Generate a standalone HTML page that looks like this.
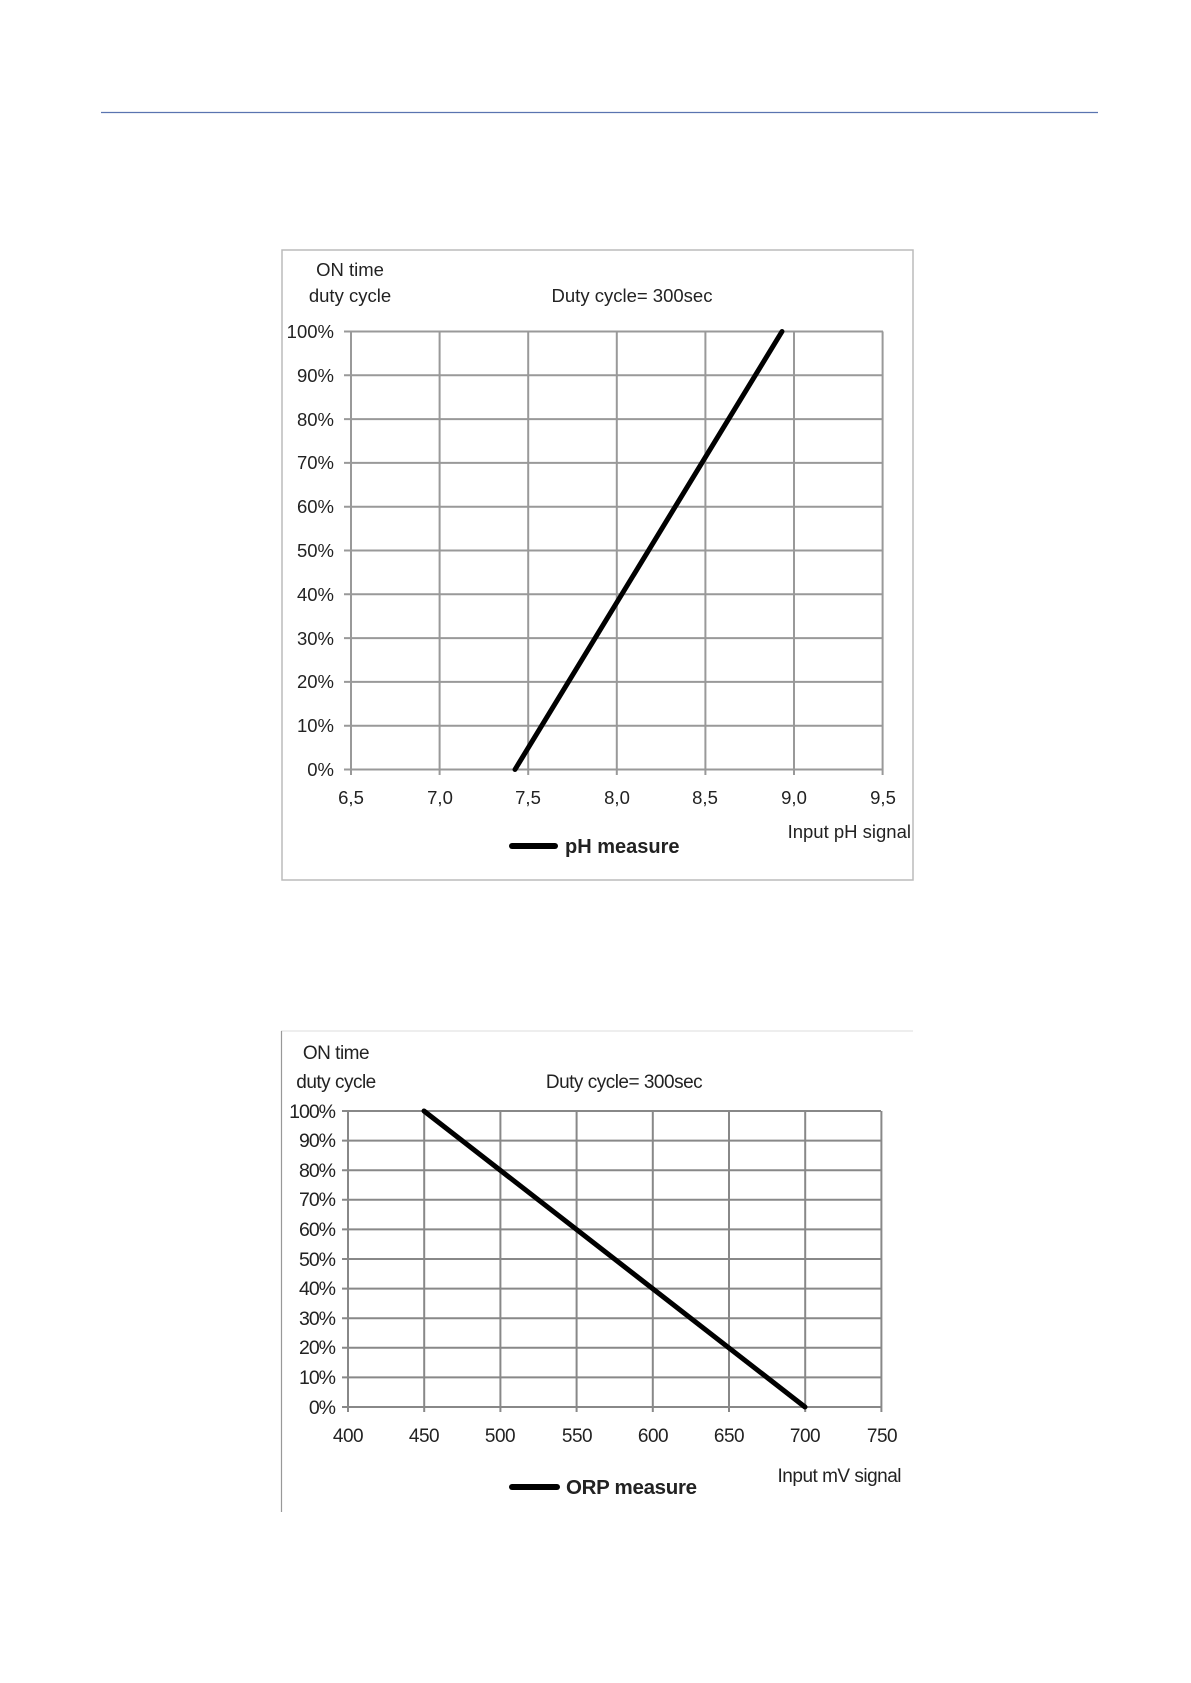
<!DOCTYPE html>
<html><head><meta charset="utf-8"><style>
html,body{margin:0;padding:0;background:#fff;}
svg{display:block;}
text{font-family:"Liberation Sans",sans-serif;fill:#222;}
</style></head><body>
<svg width="1191" height="1683" viewBox="0 0 1191 1683">
<line x1="101" y1="112.5" x2="1098" y2="112.5" stroke="#5a74b0" stroke-width="1.2"/>
<!-- Chart 1 -->
<rect x="282" y="250" width="631" height="630" fill="#fff" stroke="#bbb" stroke-width="1.5"/>
<g stroke="#999" stroke-width="2">
<line x1="439.6" y1="331.5" x2="439.6" y2="770"/><line x1="528.2" y1="331.5" x2="528.2" y2="770"/>
<line x1="616.8" y1="331.5" x2="616.8" y2="770"/><line x1="705.4" y1="331.5" x2="705.4" y2="770"/>
<line x1="794" y1="331.5" x2="794" y2="770"/><line x1="882.6" y1="331.5" x2="882.6" y2="775"/>
<line x1="344" y1="331.5" x2="883" y2="331.5"/><line x1="344" y1="375.3" x2="883" y2="375.3"/>
<line x1="344" y1="419.1" x2="883" y2="419.1"/><line x1="344" y1="462.9" x2="883" y2="462.9"/>
<line x1="344" y1="506.7" x2="883" y2="506.7"/><line x1="344" y1="550.5" x2="883" y2="550.5"/>
<line x1="344" y1="594.3" x2="883" y2="594.3"/><line x1="344" y1="638.1" x2="883" y2="638.1"/>
<line x1="344" y1="681.9" x2="883" y2="681.9"/><line x1="344" y1="725.7" x2="883" y2="725.7"/>
<line x1="344" y1="769.5" x2="883" y2="769.5"/>
<line x1="351" y1="331.5" x2="351" y2="775"/>
<line x1="439.6" y1="769" x2="439.6" y2="775"/><line x1="528.2" y1="769" x2="528.2" y2="775"/><line x1="616.8" y1="769" x2="616.8" y2="775"/><line x1="705.4" y1="769" x2="705.4" y2="775"/><line x1="794" y1="769" x2="794" y2="775"/>
</g>
<line x1="515" y1="769.5" x2="782" y2="331.5" stroke="#000" stroke-width="5" stroke-linecap="round"/>
<g font-size="18.5" text-anchor="end">
<text x="334" y="338">100%</text><text x="334" y="382">90%</text><text x="334" y="426">80%</text><text x="334" y="469">70%</text><text x="334" y="513">60%</text><text x="334" y="557">50%</text><text x="334" y="601">40%</text><text x="334" y="645">30%</text><text x="334" y="688">20%</text><text x="334" y="732">10%</text><text x="334" y="776">0%</text>
</g>
<g font-size="18.5" text-anchor="middle">
<text x="351" y="804">6,5</text><text x="440" y="804">7,0</text><text x="528" y="804">7,5</text><text x="617" y="804">8,0</text><text x="705" y="804">8,5</text><text x="794" y="804">9,0</text><text x="883" y="804">9,5</text>
<text x="350" y="276">ON time</text><text x="350" y="302">duty cycle</text>
<text x="632" y="302">Duty cycle= 300sec</text>
</g>
<text x="911" y="838" font-size="18.5" text-anchor="end">Input pH signal</text>
<line x1="512" y1="846" x2="555" y2="846" stroke="#000" stroke-width="6" stroke-linecap="round"/>
<text x="565" y="853" font-size="20" font-weight="bold" fill="#111">pH measure</text>
<!-- Chart 2 -->
<line x1="281" y1="1031" x2="913" y2="1031" stroke="#ddd" stroke-width="1"/>
<line x1="281.5" y1="1031" x2="281.5" y2="1512" stroke="#999" stroke-width="1.2"/>
<g stroke="#888" stroke-width="2">
<line x1="424.2" y1="1111" x2="424.2" y2="1412"/><line x1="500.4" y1="1111" x2="500.4" y2="1412"/>
<line x1="576.6" y1="1111" x2="576.6" y2="1412"/><line x1="652.8" y1="1111" x2="652.8" y2="1412"/>
<line x1="729" y1="1111" x2="729" y2="1412"/><line x1="805.2" y1="1111" x2="805.2" y2="1412"/>
<line x1="881.4" y1="1111" x2="881.4" y2="1412"/>
<line x1="342" y1="1111" x2="881" y2="1111"/><line x1="342" y1="1140.6" x2="881" y2="1140.6"/>
<line x1="342" y1="1170.2" x2="881" y2="1170.2"/><line x1="342" y1="1199.8" x2="881" y2="1199.8"/>
<line x1="342" y1="1229.4" x2="881" y2="1229.4"/><line x1="342" y1="1259" x2="881" y2="1259"/>
<line x1="342" y1="1288.6" x2="881" y2="1288.6"/><line x1="342" y1="1318.2" x2="881" y2="1318.2"/>
<line x1="342" y1="1347.8" x2="881" y2="1347.8"/><line x1="342" y1="1377.4" x2="881" y2="1377.4"/>
<line x1="342" y1="1407" x2="881" y2="1407"/>
<line x1="348" y1="1111" x2="348" y2="1412"/>
</g>
<line x1="424" y1="1111" x2="805" y2="1407" stroke="#000" stroke-width="5" stroke-linecap="round"/>
<g font-size="19.5" text-anchor="end" letter-spacing="-1">
<text x="335" y="1118">100%</text><text x="335" y="1147">90%</text><text x="335" y="1177">80%</text><text x="335" y="1206">70%</text><text x="335" y="1236">60%</text><text x="335" y="1266">50%</text><text x="335" y="1295">40%</text><text x="335" y="1325">30%</text><text x="335" y="1354">20%</text><text x="335" y="1384">10%</text><text x="335" y="1414">0%</text>
</g>
<g font-size="19" text-anchor="middle" letter-spacing="-0.5">
<text x="348" y="1442">400</text><text x="424" y="1442">450</text><text x="500" y="1442">500</text><text x="577" y="1442">550</text><text x="653" y="1442">600</text><text x="729" y="1442">650</text><text x="805" y="1442">700</text><text x="882" y="1442">750</text>
<text x="336" y="1059">ON time</text><text x="336" y="1088">duty cycle</text>
<text x="624" y="1088">Duty cycle= 300sec</text>
</g>
<text x="901" y="1482" font-size="19" text-anchor="end" letter-spacing="-0.5">Input mV signal</text>
<line x1="512" y1="1487" x2="557" y2="1487" stroke="#000" stroke-width="6" stroke-linecap="round"/>
<text x="566" y="1494" font-size="20.5" font-weight="bold" fill="#111" letter-spacing="-0.3">ORP measure</text>
</svg>
</body></html>
